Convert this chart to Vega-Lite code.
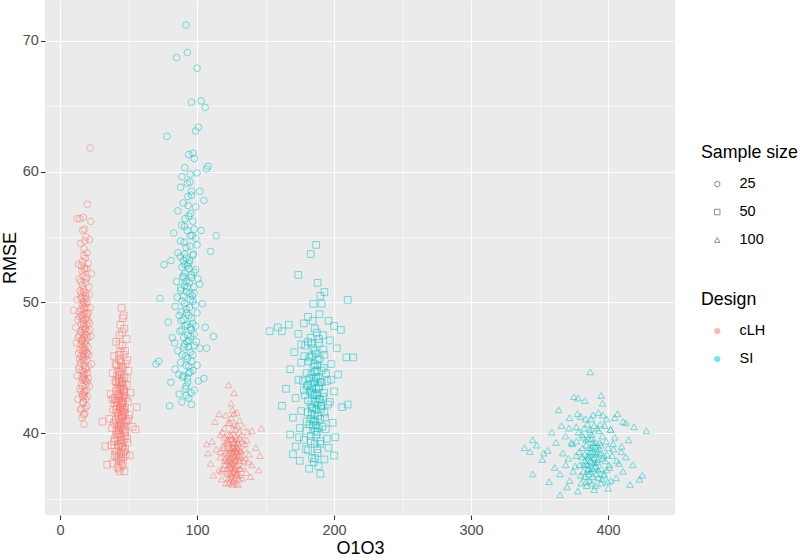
{
  "$schema": "https://vega.github.io/schema/vega-lite/v6.json",
  "width": 630,
  "height": 515,
  "autosize": {"type": "none"},
  "padding": {"left": 45, "top": 0, "right": 125, "bottom": 42},
  "background": "white",
  "config": {
    "view": {"fill": "#EBEBEB", "stroke": null},
    "font": "Liberation Sans",
    "axis": {
      "domain": false,
      "tickColor": "#333333",
      "tickWidth": 1.1,
      "tickSize": 4.5,
      "labelColor": "#4D4D4D",
      "labelFontSize": 14.5,
      "labelOverlap": false,
      "labelFlush": false,
      "gridColor": "white",
      "titleColor": "black",
      "titleFontSize": 18,
      "titleFontWeight": "normal"
    },
    "legend": {
      "titleFontSize": 17.8,
      "titleFontWeight": "normal",
      "titleColor": "black",
      "labelFontSize": 14.5,
      "labelColor": "black",
      "padding": 0,
      "rowPadding": 13,
      "titlePadding": 15,
      "symbolOffset": 9,
      "labelOffset": 15
    }
  },
  "datasets": {
    "cLH25": [
      {"x":22,"y":61.8},{"x":20,"y":57.5},{"x":12.5,"y":56.4},{"x":14.5,"y":56.4},{"x":17,"y":56.5},{"x":22.5,"y":56.2},{"x":16.5,"y":55.5},{"x":19,"y":55},{"x":21.5,"y":54.8},{"x":17.5,"y":54.1},
      {"x":15,"y":54.5},{"x":19.5,"y":53.8},{"x":13.5,"y":52.9},{"x":20.5,"y":53},{"x":18,"y":52.6},{"x":23,"y":52.2},{"x":16,"y":52.4},{"x":14,"y":51.8},{"x":19,"y":51.5},{"x":21,"y":51.2},
      {"x":17,"y":51},{"x":15.5,"y":50.7},{"x":18.5,"y":50.5},{"x":12.5,"y":50.2},{"x":20,"y":50},{"x":16.5,"y":49.8},{"x":22,"y":49.6},{"x":10,"y":49.4},{"x":14.5,"y":49.3},{"x":18,"y":49.2},
      {"x":19.5,"y":48.9},{"x":13,"y":48.7},{"x":17,"y":48.6},{"x":21.5,"y":48.4},{"x":15.5,"y":48.3},{"x":11.5,"y":48.1},{"x":18.5,"y":48},{"x":20,"y":47.8},{"x":16,"y":47.7},{"x":14,"y":47.5},
      {"x":22.5,"y":47.4},{"x":17.5,"y":47.3},{"x":19,"y":47.1},{"x":12,"y":46.9},{"x":15,"y":46.8},{"x":20.5,"y":46.6},{"x":18,"y":46.5},{"x":16.5,"y":46.3},{"x":13.5,"y":46.1},{"x":21,"y":46},
      {"x":17,"y":45.8},{"x":19.5,"y":45.6},{"x":15,"y":45.4},{"x":23,"y":45.3},{"x":14,"y":45.1},{"x":18.5,"y":45},{"x":16,"y":44.8},{"x":20,"y":44.6},{"x":12.5,"y":44.4},{"x":17.5,"y":44.2},
      {"x":19,"y":44},{"x":15.5,"y":43.8},{"x":21.5,"y":43.6},{"x":14.5,"y":43.4},{"x":18,"y":43.2},{"x":16.5,"y":43},{"x":20,"y":42.8},{"x":13,"y":42.6},{"x":17,"y":42.4},{"x":19.5,"y":42.1},
      {"x":15,"y":41.8},{"x":18,"y":41.5},{"x":16,"y":41.2},{"x":17.5,"y":40.7},{"x":19,"y":49.6},{"x":16.8,"y":50.1},{"x":18.2,"y":47.9},{"x":17.8,"y":46.9},{"x":16.2,"y":48.8},{"x":18.8,"y":45.9},
      {"x":17.3,"y":44.7},{"x":15.8,"y":47.1},{"x":19.8,"y":49.1},{"x":16.9,"y":52},{"x":18.4,"y":53.4},{"x":14.8,"y":46.4},{"x":20.6,"y":44.2},{"x":17.9,"y":42.9},{"x":15.3,"y":50.3},{"x":19.2,"y":47.5},
      {"x":17.1,"y":49.5},{"x":16.4,"y":45.6},{"x":18.7,"y":51.8},{"x":13.8,"y":44.9},{"x":21.3,"y":50.6},{"x":17.6,"y":48.2},{"x":16.1,"y":43.6},{"x":19.6,"y":46.2},{"x":18.1,"y":44.5},{"x":15.7,"y":52.8},
      {"x":16.3,"y":47.2},{"x":18.9,"y":46.8},{"x":17.2,"y":48.4},{"x":15.6,"y":49},{"x":19.3,"y":48.3},{"x":17.7,"y":45.2},{"x":16.6,"y":44.1},{"x":18.4,"y":43.7},{"x":20.2,"y":47.3},{"x":14.9,"y":47.8},
      {"x":17.4,"y":50.8},{"x":18.6,"y":49.9},{"x":16.2,"y":51.3},{"x":19.7,"y":51.9},{"x":15.4,"y":45.9},{"x":17.9,"y":52.5},{"x":18.3,"y":41.9},{"x":16.7,"y":42.3},{"x":20.8,"y":45.1},{"x":14.2,"y":48.9},
      {"x":17,"y":46.1},{"x":18,"y":47.6},{"x":16.9,"y":49.1},{"x":19.1,"y":44.9},{"x":15.9,"y":44.3},{"x":17.6,"y":43.1},{"x":18.8,"y":50.7},{"x":16.4,"y":53.1},{"x":20.4,"y":48.6},{"x":13.4,"y":47.3},
      {"x":17.3,"y":41.4},{"x":19.4,"y":43.3},{"x":15.1,"y":51.6},{"x":18.1,"y":54.7},{"x":16.8,"y":46.6},{"x":17.7,"y":49.7},{"x":19.9,"y":46.1},{"x":15.2,"y":43.2},{"x":21.8,"y":47.9},{"x":16,"y":50.4},
      {"x":18.5,"y":42.6},{"x":17.2,"y":44.4},{"x":14.3,"y":45.7},{"x":19.6,"y":52.6},{"x":16.6,"y":48},{"x":18.2,"y":46.3},{"x":17.5,"y":50},{"x":15.8,"y":41.9},{"x":20.1,"y":43.9},{"x":17.8,"y":55.6},
      {"x":16.1,"y":47},{"x":18.7,"y":48.7},{"x":17.4,"y":45.6},{"x":19,"y":50.3},{"x":15.5,"y":49.5},{"x":18.3,"y":44.1},{"x":16.5,"y":42.8},{"x":17.1,"y":53.6},{"x":20.7,"y":49.2},{"x":14.6,"y":50.9}
    ],
    "cLH50": [
      {"x":45,"y":49.6},{"x":46.5,"y":49},{"x":44,"y":48.3},{"x":47,"y":48},{"x":43.5,"y":47.5},{"x":48.5,"y":47.2},{"x":41,"y":47},{"x":45.5,"y":46.7},{"x":47.5,"y":46.3},{"x":39.5,"y":45.9},
      {"x":43,"y":46},{"x":49,"y":45.6},{"x":44.5,"y":45.4},{"x":41.5,"y":45.2},{"x":46,"y":45},{"x":50,"y":44.8},{"x":38.5,"y":44.6},{"x":43.5,"y":44.5},{"x":47,"y":44.3},{"x":40.5,"y":44},
      {"x":45,"y":43.9},{"x":48.5,"y":43.7},{"x":42,"y":43.5},{"x":44,"y":43.3},{"x":51.5,"y":43.1},{"x":37,"y":43},{"x":46.5,"y":42.9},{"x":40,"y":42.7},{"x":43,"y":42.6},{"x":49.5,"y":42.4},
      {"x":45.5,"y":42.3},{"x":41.5,"y":42.1},{"x":47.5,"y":42},{"x":39,"y":41.8},{"x":44.5,"y":41.7},{"x":42.5,"y":41.5},{"x":50.5,"y":41.4},{"x":46,"y":41.3},{"x":36,"y":41.1},{"x":40.5,"y":41},
      {"x":48,"y":40.9},{"x":43.5,"y":40.7},{"x":45,"y":40.6},{"x":38,"y":40.4},{"x":41,"y":40.2},{"x":47,"y":40.1},{"x":53,"y":40.5},{"x":44,"y":39.9},{"x":42,"y":39.7},{"x":49,"y":39.6},
      {"x":39.5,"y":39.4},{"x":45.5,"y":39.3},{"x":37.5,"y":39.1},{"x":43,"y":39},{"x":47.5,"y":38.8},{"x":41,"y":38.6},{"x":44.5,"y":38.5},{"x":40,"y":38.3},{"x":46,"y":38.2},{"x":42.5,"y":38},
      {"x":38.5,"y":37.7},{"x":45,"y":37.5},{"x":43,"y":37.3},{"x":47,"y":37.1},{"x":34.5,"y":37.6},{"x":51,"y":38.3},{"x":44.2,"y":42.8},{"x":43.8,"y":41.9},{"x":45.3,"y":41.2},{"x":42.8,"y":40.3},
      {"x":44.7,"y":43.6},{"x":43.2,"y":44.1},{"x":46.3,"y":40.8},{"x":41.8,"y":41.6},{"x":44.9,"y":42.2},{"x":43.6,"y":39.5},{"x":45.8,"y":44},{"x":42.3,"y":42.9},{"x":46.8,"y":41.8},{"x":40.8,"y":43.2},
      {"x":44.4,"y":40.4},{"x":48.2,"y":42.7},{"x":39.8,"y":42.3},{"x":45.1,"y":38.9},{"x":43.3,"y":45.6},{"x":47.8,"y":39.8},{"x":42.6,"y":44.8},{"x":46.6,"y":43.4},{"x":41.3,"y":39.9},{"x":49.8,"y":41.1},
      {"x":56,"y":42},{"x":55,"y":40.3},{"x":31,"y":40.9},{"x":33,"y":39},
      {"x":44.6,"y":41.4},{"x":42.9,"y":41.1},{"x":46.1,"y":42.5},{"x":43.4,"y":43},{"x":45.7,"y":40.3},{"x":41.6,"y":40.6},{"x":47.3,"y":41.6},{"x":44.1,"y":39.2},{"x":42.2,"y":42.4},{"x":46.9,"y":40.5},
      {"x":43.9,"y":44.7},{"x":45.2,"y":43.7},{"x":40.9,"y":41.8},{"x":48.6,"y":41},{"x":43.1,"y":38.3},{"x":45.9,"y":39},{"x":42.7,"y":40},{"x":44.8,"y":45.1},{"x":41.2,"y":43.9},{"x":47.1,"y":43.1},
      {"x":44.3,"y":37.9},{"x":39.3,"y":40.8},{"x":46.4,"y":46},{"x":43.7,"y":42},{"x":45.4,"y":41.9},{"x":42.4,"y":39.1},{"x":48.9,"y":44.2},{"x":40.2,"y":39.6},{"x":44,"y":40.9},{"x":46.7,"y":38.6},
      {"x":43.5,"y":46.8},{"x":45.6,"y":42.7},{"x":41.7,"y":44.4},{"x":44.9,"y":39.7},{"x":42.9,"y":43.8},{"x":47.6,"y":40.2},{"x":39.8,"y":38.9},{"x":45.1,"y":44.5},{"x":43.3,"y":40.5},{"x":46.2,"y":43.3},
      {"x":41.1,"y":42.5},{"x":44.5,"y":38.1},{"x":48.1,"y":38.4},{"x":42,"y":37.4},{"x":45.3,"y":47.7},{"x":43.8,"y":43.4},{"x":46.5,"y":39.5},{"x":40.6,"y":45.3},{"x":44.7,"y":42.4},{"x":42.6,"y":41.3},
      {"x":47.9,"y":45.3},{"x":45.9,"y":37.7},{"x":43,"y":44.2},{"x":41.4,"y":38.2},{"x":46,"y":41.6},{"x":44.2,"y":46.2},{"x":38.4,"y":42.6},{"x":49.3,"y":39.3},{"x":43.6,"y":37.1},{"x":45.7,"y":48.8}
    ],
    "SI25": [
      {"x":92,"y":71.2},{"x":85,"y":68.7},{"x":93,"y":69.1},{"x":100,"y":67.9},{"x":103,"y":65.4},{"x":96,"y":65.3},{"x":106,"y":64.9},{"x":78,"y":62.7},{"x":99,"y":63.1},{"x":101,"y":63.4},
      {"x":97,"y":61.4},{"x":94,"y":61.3},{"x":98,"y":61},{"x":108,"y":60.4},{"x":107,"y":60.2},{"x":91,"y":60.3},{"x":95,"y":59.8},{"x":100,"y":59.9},{"x":89,"y":59.6},{"x":93,"y":59.1},
      {"x":102,"y":58.5},{"x":88,"y":58.8},{"x":96,"y":58.2},{"x":90,"y":57.6},{"x":99,"y":57.3},{"x":105,"y":57.8},{"x":86,"y":57},{"x":94,"y":56.6},{"x":97,"y":56.2},{"x":91,"y":55.8},
      {"x":103,"y":55.5},{"x":83,"y":55.3},{"x":95,"y":55.1},{"x":88,"y":54.7},{"x":100,"y":54.4},{"x":92,"y":54.2},{"x":86,"y":53.8},{"x":97,"y":53.6},{"x":110,"y":53.9},{"x":81,"y":53.2},
      {"x":94,"y":53},{"x":89,"y":52.7},{"x":99,"y":52.5},{"x":91,"y":52.2},{"x":76,"y":52.9},{"x":96,"y":51.9},{"x":85,"y":51.6},{"x":102,"y":51.4},{"x":93,"y":51.2},{"x":88,"y":50.9},
      {"x":98,"y":50.7},{"x":73,"y":50.3},{"x":90,"y":50.5},{"x":95,"y":50.2},{"x":104,"y":49.9},{"x":84,"y":49.7},{"x":92,"y":49.5},{"x":100,"y":49.2},{"x":87,"y":49},{"x":96,"y":48.8},
      {"x":79,"y":48.5},{"x":93,"y":48.3},{"x":106,"y":48.1},{"x":89,"y":47.9},{"x":98,"y":47.6},{"x":82,"y":47.3},{"x":94,"y":47.1},{"x":91,"y":46.8},{"x":102,"y":46.5},{"x":86,"y":46.3},
      {"x":97,"y":46},{"x":72,"y":45.5},{"x":93,"y":45.7},{"x":88,"y":45.4},{"x":100,"y":45.2},{"x":84,"y":44.9},{"x":95,"y":44.7},{"x":90,"y":44.4},{"x":105,"y":44.2},{"x":81,"y":43.9},
      {"x":92,"y":43.6},{"x":98,"y":43.3},{"x":87,"y":43},{"x":94,"y":42.7},{"x":80,"y":42.1},{"x":89,"y":42.4},{"x":96,"y":42.2},{"x":101,"y":44},{"x":107,"y":46.5},{"x":91,"y":53.7},
      {"x":95,"y":50.7},{"x":93,"y":47.5},{"x":94,"y":49},{"x":92,"y":51.6},{"x":96,"y":47.9},{"x":90,"y":48.7},{"x":93,"y":52.8},{"x":97,"y":50.1},{"x":95,"y":46.2},{"x":92,"y":45.2},
      {"x":98,"y":55.6},{"x":90,"y":53.2},{"x":99,"y":48.2},{"x":94,"y":44.6},{"x":89,"y":50.1},{"x":114,"y":55.1},{"x":112,"y":47.4},{"x":70,"y":45.3},
      {"x":92.5,"y":50.8},{"x":94.5,"y":49.6},{"x":91,"y":51.3},{"x":95.8,"y":52.1},{"x":90.3,"y":47.3},{"x":96.9,"y":48.4},{"x":93.7,"y":46.6},{"x":88.6,"y":49.3},{"x":97.8,"y":51.2},{"x":92.1,"y":53.4},
      {"x":94.9,"y":54.3},{"x":89.7,"y":52},{"x":91.8,"y":45.9},{"x":96.2,"y":45.5},{"x":93.2,"y":43.9},{"x":87.4,"y":47.8},{"x":98.7,"y":49.8},{"x":92.9,"y":55.5},{"x":90.6,"y":54.6},{"x":95.3,"y":56.8},
      {"x":88.1,"y":51.1},{"x":99.5,"y":47},{"x":94.1,"y":52.6},{"x":91.5,"y":48.2},{"x":96.6,"y":50.5},{"x":86.8,"y":44.5},{"x":93.5,"y":57.4},{"x":89.2,"y":46},{"x":97.4,"y":53.7},{"x":92.2,"y":42.9},
      {"x":95.6,"y":43.1},{"x":90.9,"y":49.9},{"x":94.3,"y":51.5},{"x":88.9,"y":55.9},{"x":98.1,"y":46.7},{"x":91.3,"y":56.4},{"x":96,"y":58.5},{"x":93.9,"y":45.1},{"x":87.9,"y":53.5},{"x":100.6,"y":51.8},
      {"x":92.7,"y":47},{"x":95.1,"y":48.1},{"x":89.5,"y":44.3},{"x":94.6,"y":53.2},{"x":90.1,"y":51.9},{"x":97.2,"y":44.8},{"x":85.6,"y":50.4},{"x":93.4,"y":58.1},{"x":91.7,"y":43.4},{"x":99.1,"y":54.9},
      {"x":92.4,"y":49.2},{"x":95.4,"y":47.4},{"x":88.4,"y":48.6},{"x":96.4,"y":55.1},{"x":93,"y":44.2},{"x":90.4,"y":46.6},{"x":94.8,"y":59.2},{"x":91.1,"y":52.9},{"x":97.9,"y":52.3},{"x":83.7,"y":46.9}
    ],
    "cLH100": [
      {"x":123,"y":43.7},{"x":127,"y":43.1},{"x":125,"y":42.3},{"x":126,"y":41.8},{"x":116,"y":41.5},{"x":121,"y":41.4},{"x":129,"y":41.6},{"x":131,"y":41},{"x":113,"y":40.9},{"x":124,"y":40.8},
      {"x":120,"y":40.4},{"x":134,"y":40.5},{"x":128,"y":40.3},{"x":137,"y":40.1},{"x":140,"y":40.2},{"x":117,"y":39.9},{"x":125,"y":39.8},{"x":131,"y":39.6},{"x":122,"y":39.5},{"x":111,"y":39.4},
      {"x":127,"y":39.3},{"x":135,"y":39.2},{"x":119,"y":39.1},{"x":129,"y":39},{"x":124,"y":38.9},{"x":143,"y":38.9},{"x":114,"y":38.8},{"x":132,"y":38.7},{"x":126,"y":38.6},{"x":121,"y":38.5},
      {"x":138,"y":38.4},{"x":128,"y":38.3},{"x":117,"y":38.2},{"x":130,"y":38.1},{"x":123,"y":38},{"x":134,"y":37.9},{"x":126,"y":37.8},{"x":110,"y":37.7},{"x":120,"y":37.6},{"x":128,"y":37.5},
      {"x":140,"y":37.6},{"x":124,"y":37.4},{"x":131,"y":37.3},{"x":116,"y":37.2},{"x":127,"y":37.1},{"x":136,"y":37},{"x":122,"y":36.9},{"x":129,"y":36.8},{"x":125,"y":36.7},{"x":118,"y":36.5},
      {"x":133,"y":36.6},{"x":126,"y":36.3},{"x":121,"y":38.7},{"x":127,"y":38.2},{"x":125,"y":37.7},{"x":129,"y":38.6},{"x":123,"y":39.4},{"x":128,"y":37.2},{"x":126,"y":39},{"x":124,"y":38.1},
      {"x":130,"y":39.2},{"x":122,"y":37.9},{"x":127,"y":38.9},{"x":132,"y":38.2},{"x":120,"y":39.7},{"x":125,"y":36.9},{"x":131,"y":38.4},{"x":119,"y":37.3},{"x":126,"y":38.4},{"x":128,"y":38.8},
      {"x":124,"y":37.5},{"x":133,"y":39.4},{"x":117,"y":38.6},{"x":129,"y":37.6},{"x":135,"y":38.1},{"x":123,"y":36.6},{"x":145,"y":37.2},{"x":112,"y":36.8},{"x":139,"y":36.7},{"x":146,"y":38.3},
      {"x":107,"y":39.2},{"x":108,"y":38.5},{"x":147,"y":40.4},{"x":130,"y":36.1},{"x":121,"y":36.2},
      {"x":126.5,"y":38.5},{"x":128.3,"y":38},{"x":124.8,"y":38.8},{"x":129.6,"y":39.3},{"x":123.4,"y":37.6},{"x":127.7,"y":37.3},{"x":125.5,"y":39.6},{"x":130.4,"y":37.9},{"x":122.6,"y":38.4},{"x":128.9,"y":38.9},
      {"x":126.1,"y":37.1},{"x":131.8,"y":38.6},{"x":124.2,"y":39.9},{"x":127.3,"y":36.6},{"x":120.6,"y":38.1},{"x":129.2,"y":37},{"x":125.9,"y":40.3},{"x":133.4,"y":37.5},{"x":123,"y":39.2},{"x":127.9,"y":39.8},
      {"x":126.8,"y":36.4},{"x":121.9,"y":37.3},{"x":130.8,"y":40.1},{"x":124.6,"y":36.5},{"x":128.6,"y":36.9},{"x":125.2,"y":38.2},{"x":132.6,"y":39.9},{"x":119.4,"y":38.9},{"x":127.1,"y":40.7},{"x":129.9,"y":38.3},
      {"x":123.8,"y":37},{"x":126.3,"y":39.3},{"x":134.8,"y":38.8},{"x":122.3,"y":39.9},{"x":128,"y":37.9},{"x":125.6,"y":37.4},{"x":131.1,"y":36.8},{"x":120.2,"y":37.9},{"x":127.5,"y":38.7},{"x":124,"y":38.5},
      {"x":129.4,"y":40.6},{"x":126.7,"y":37.7},{"x":136.3,"y":39.5},{"x":118.5,"y":40.1},{"x":128.4,"y":36.2},{"x":125,"y":41.2},{"x":130.2,"y":38.8},{"x":123.2,"y":36.2},{"x":127.2,"y":39.5},{"x":121.5,"y":39.3},
      {"x":132.1,"y":37.3},{"x":126,"y":38.9},{"x":124.5,"y":37.9},{"x":129.1,"y":39.6},{"x":117.8,"y":37.1},{"x":137.5,"y":37.8},{"x":126.9,"y":41.5},{"x":122.8,"y":40.8},{"x":130.6,"y":36.5},{"x":125.8,"y":36.1}
    ],
    "SI50": [
      {"x":187,"y":54.4},{"x":183,"y":53.7},{"x":174,"y":52.1},{"x":188,"y":51.5},{"x":190,"y":50.5},{"x":193,"y":50.8},{"x":185,"y":49.9},{"x":191,"y":49.9},{"x":210,"y":50.2},{"x":181,"y":48.9},
      {"x":167,"y":48.3},{"x":178,"y":48.4},{"x":196,"y":48.6},{"x":200,"y":48.2},{"x":205,"y":47.9},{"x":162,"y":47.8},{"x":186,"y":48},{"x":192,"y":47.5},{"x":174,"y":47.6},{"x":183,"y":47.3},
      {"x":197,"y":47.1},{"x":189,"y":46.9},{"x":179,"y":46.7},{"x":202,"y":46.5},{"x":186,"y":46.3},{"x":171,"y":46.2},{"x":193,"y":46},{"x":182,"y":45.8},{"x":209,"y":45.8},{"x":188,"y":45.6},
      {"x":176,"y":45.4},{"x":198,"y":45.3},{"x":185,"y":45.1},{"x":168,"y":44.9},{"x":191,"y":44.8},{"x":180,"y":44.6},{"x":203,"y":44.5},{"x":187,"y":44.3},{"x":174,"y":44.1},{"x":195,"y":44},
      {"x":183,"y":43.8},{"x":189,"y":43.6},{"x":165,"y":43.4},{"x":178,"y":43.3},{"x":200,"y":43.2},{"x":186,"y":43},{"x":192,"y":42.8},{"x":172,"y":42.7},{"x":181,"y":42.5},{"x":197,"y":42.4},
      {"x":188,"y":42.2},{"x":162,"y":42.1},{"x":184,"y":41.9},{"x":206,"y":42},{"x":176,"y":41.7},{"x":193,"y":41.6},{"x":186,"y":41.4},{"x":170,"y":41.2},{"x":190,"y":41.1},{"x":180,"y":40.9},
      {"x":199,"y":40.8},{"x":185,"y":40.6},{"x":175,"y":40.4},{"x":194,"y":40.3},{"x":188,"y":40.1},{"x":168,"y":39.9},{"x":183,"y":39.8},{"x":201,"y":39.7},{"x":178,"y":39.5},{"x":190,"y":39.4},
      {"x":186,"y":39.2},{"x":172,"y":39},{"x":196,"y":38.9},{"x":181,"y":38.7},{"x":170,"y":38.4},{"x":188,"y":38.5},{"x":175,"y":37.9},{"x":184,"y":38.1},{"x":193,"y":38},{"x":200,"y":38.3},
      {"x":190,"y":36.9},{"x":186,"y":44.7},{"x":184,"y":43.1},{"x":189,"y":42.6},{"x":182,"y":44.2},{"x":187,"y":41.8},{"x":185,"y":42.9},{"x":190,"y":43.9},{"x":183,"y":41.1},{"x":188,"y":45.2},
      {"x":186,"y":40.2},{"x":181,"y":43.7},{"x":191,"y":42.1},{"x":184,"y":45.9},{"x":187,"y":43.4},{"x":153,"y":47.8},{"x":159,"y":48.1},{"x":214,"y":45.8},{"x":210,"y":42.2},
      {"x":186.5,"y":42.4},{"x":188.9,"y":43.5},{"x":184.2,"y":42},{"x":190.6,"y":41.9},{"x":182.4,"y":43.2},{"x":187.3,"y":44.8},{"x":185.1,"y":40.9},{"x":192.8,"y":43.1},{"x":180.7,"y":41.6},{"x":189.5,"y":45.7},
      {"x":183.6,"y":44.5},{"x":186.9,"y":39.9},{"x":194.1,"y":44.6},{"x":178.9,"y":42.9},{"x":188.2,"y":41.3},{"x":184.8,"y":46.5},{"x":191.5,"y":40.5},{"x":181.5,"y":45.5},{"x":187.8,"y":38.8},{"x":185.6,"y":43.9},
      {"x":195.7,"y":42.2},{"x":177.3,"y":44},{"x":189.1,"y":47.2},{"x":183.1,"y":39.4},{"x":186.2,"y":41},{"x":192.2,"y":46.4},{"x":179.8,"y":40.2},{"x":187.6,"y":42.9},{"x":184.5,"y":48.6},{"x":190.1,"y":39.2},
      {"x":182.9,"y":42.2},{"x":188.5,"y":44.2},{"x":176.1,"y":46.8},{"x":193.4,"y":41.2},{"x":185.3,"y":37.8},{"x":181.1,"y":47},{"x":189.8,"y":42.6},{"x":186.7,"y":46.1},{"x":183.9,"y":41.5},{"x":197.9,"y":44.1},
      {"x":174.5,"y":39.7},{"x":188.1,"y":40.4},{"x":185.9,"y":45.3},{"x":191.1,"y":43.9},{"x":180.2,"y":43.6},{"x":187.1,"y":40.6},{"x":184,"y":43.5},{"x":194.9,"y":39.6},{"x":182.1,"y":40.7},{"x":189.3,"y":49.1},
      {"x":186.3,"y":38.1},{"x":178.3,"y":45.9},{"x":192.5,"y":45},{"x":185.2,"y":44.2},{"x":188.7,"y":37.5},{"x":183.4,"y":46.9},{"x":190.3,"y":42.1},{"x":179.5,"y":38.8},{"x":187.4,"y":47.7},{"x":181.8,"y":37.3}
    ],
    "SI100": [
      {"x":387,"y":44.7},{"x":375,"y":42.8},{"x":378,"y":42.7},{"x":383,"y":42.5},{"x":395,"y":42.9},{"x":396,"y":42.3},{"x":407,"y":41.5},{"x":372,"y":41.2},{"x":380,"y":41.3},{"x":389,"y":41.4},
      {"x":399,"y":41.1},{"x":411,"y":40.9},{"x":419,"y":40.5},{"x":366,"y":40.6},{"x":377,"y":40.5},{"x":385,"y":40.7},{"x":392,"y":40.4},{"x":402,"y":40.3},{"x":359,"y":40.1},{"x":369,"y":39.8},
      {"x":381,"y":39.9},{"x":388,"y":39.6},{"x":396,"y":39.8},{"x":405,"y":39.7},{"x":415,"y":39.5},{"x":348,"y":39.1},{"x":362,"y":39.3},{"x":374,"y":39.2},{"x":384,"y":39.1},{"x":391,"y":39},
      {"x":400,"y":38.9},{"x":410,"y":39},{"x":343,"y":38.6},{"x":356,"y":38.7},{"x":367,"y":38.5},{"x":379,"y":38.6},{"x":387,"y":38.4},{"x":394,"y":38.5},{"x":403,"y":38.3},{"x":413,"y":38.2},
      {"x":352,"y":38},{"x":371,"y":38.1},{"x":383,"y":37.9},{"x":390,"y":37.8},{"x":398,"y":37.9},{"x":408,"y":37.7},{"x":418,"y":37.6},{"x":361,"y":37.4},{"x":376,"y":37.5},{"x":386,"y":37.3},
      {"x":393,"y":37.2},{"x":401,"y":37.4},{"x":411,"y":37.1},{"x":365,"y":36.9},{"x":380,"y":36.8},{"x":389,"y":36.7},{"x":397,"y":36.9},{"x":406,"y":36.6},{"x":372,"y":36.4},{"x":384,"y":36.3},
      {"x":395,"y":36.2},{"x":378,"y":35.6},{"x":386,"y":38.2},{"x":388,"y":38.9},{"x":390,"y":38.1},{"x":385,"y":37.6},{"x":392,"y":38.6},{"x":387,"y":37.1},{"x":383,"y":38.4},{"x":391,"y":37.5},
      {"x":389,"y":39.3},{"x":386,"y":36.9},{"x":394,"y":39.3},{"x":382,"y":37.1},{"x":388,"y":37.8},{"x":396,"y":38.1},{"x":384,"y":39.5},{"x":399,"y":37.2},{"x":381,"y":38.2},{"x":393,"y":36.6},
      {"x":387,"y":40.1},{"x":404,"y":38.8},{"x":377,"y":39.4},{"x":402,"y":36.4},{"x":428,"y":40.2},{"x":345,"y":36.9},{"x":353,"y":38.5},{"x":425,"y":36.8},{"x":357,"y":36.3},{"x":416,"y":36.1},
      {"x":370,"y":35.9},{"x":400,"y":35.8},{"x":413,"y":40.8},{"x":364,"y":41.8},{"x":339,"y":38.9},{"x":345,"y":39.5},{"x":423,"y":36.5},{"x":365,"y":35.3},
      {"x":389.5,"y":38.5},{"x":392.5,"y":38},{"x":386.5,"y":38.9},{"x":394.8,"y":39.1},{"x":384.2,"y":37.7},{"x":390.3,"y":37.4},{"x":388.1,"y":39.9},{"x":396.9,"y":38.3},{"x":381.4,"y":38.9},{"x":391.7,"y":36.9},
      {"x":387.4,"y":37.9},{"x":398.6,"y":39.4},{"x":383.1,"y":36.7},{"x":393.2,"y":40.2},{"x":385.6,"y":39.6},{"x":400.9,"y":37.6},{"x":379.3,"y":37.6},{"x":389.9,"y":40.6},{"x":395.6,"y":36.5},{"x":382.6,"y":40.4},
      {"x":391.1,"y":39.3},{"x":386.2,"y":36.4},{"x":403.7,"y":39.2},{"x":376.8,"y":38.3},{"x":388.7,"y":37.3},{"x":397.5,"y":40.6},{"x":384.9,"y":38.3},{"x":392.1,"y":37.8},{"x":374.6,"y":37.1},{"x":399.2,"y":38.4},
      {"x":387.7,"y":41.1},{"x":390.8,"y":36},{"x":381.9,"y":39.7},{"x":395.1,"y":37.3},{"x":385.3,"y":37.2},{"x":406.3,"y":37.9},{"x":378.4,"y":40.1},{"x":393.9,"y":38.8},{"x":388.4,"y":36.2},{"x":383.7,"y":41.1},
      {"x":397.1,"y":36.8},{"x":389.2,"y":39.1},{"x":373.2,"y":39.3},{"x":401.8,"y":40.3},{"x":386.9,"y":40.3},{"x":391.4,"y":38.4},{"x":380.5,"y":36.2},{"x":396.2,"y":41.4},{"x":384.5,"y":36},{"x":409.6,"y":38.6},
      {"x":369.1,"y":37.6},{"x":392.9,"y":41.6},{"x":387.1,"y":38.6},{"x":399.9,"y":36.3},{"x":382.3,"y":37.6},{"x":394.4,"y":40.7},{"x":377.7,"y":41.5},{"x":390,"y":35.7},{"x":404.9,"y":41.2},{"x":371.5,"y":40.4}
    ]
  },
  "encoding": {
    "x": {
      "field": "x",
      "type": "quantitative",
      "title": "O1O3",
      "scale": {"domain": [-10.95, 448.9], "nice": false, "zero": false},
      "axis": {
        "values": [0, 50, 100, 150, 200, 250, 300, 350, 400],
        "labelExpr": "datum.value % 100 === 0 ? datum.label : ''",
        "gridWidth": {"condition": {"test": "datum.value % 100 !== 0", "value": 0.55}, "value": 1.1},
        "tickOpacity": {"condition": {"test": "datum.value % 100 !== 0", "value": 0}, "value": 1},
        "labelPadding": 4,
        "titlePadding": 2
      }
    },
    "y": {
      "field": "y",
      "type": "quantitative",
      "title": "RMSE",
      "scale": {"domain": [33.76, 73.11], "nice": false, "zero": false},
      "axis": {
        "values": [35, 40, 45, 50, 55, 60, 65, 70],
        "labelExpr": "datum.value % 10 === 0 ? datum.label : ''",
        "gridWidth": {"condition": {"test": "datum.value % 10 !== 0", "value": 0.55}, "value": 1.1},
        "tickOpacity": {"condition": {"test": "datum.value % 10 !== 0", "value": 0}, "value": 1},
        "labelPadding": 2.2,
        "titlePadding": 2.5
      }
    }
  },
  "layer": [
    {
      "data": {"name": "cLH25"},
      "mark": {"type": "point", "filled": false, "size": 45, "strokeWidth": 0.9, "opacity": 0.55},
      "encoding": {
        "color": {"datum": "cLH", "type": "nominal", "title": "Design",
          "scale": {"domain": ["cLH", "SI"], "range": ["#F8766D", "#00BFC4"]},
          "legend": {"orient": "none", "legendX": 656, "legendY": 291, "symbolType": "circle", "symbolSize": 40, "symbolOpacity": 1,
            "encoding": {"symbols": {"fill": {"value": {"expr": "scale('color', datum.value)"}}, "fillOpacity": {"value": 0.5}, "strokeWidth": {"value": 0}}}}},
        "shape": {"datum": 25, "type": "nominal", "title": "Sample size",
          "scale": {"domain": [25, 50, 100], "range": ["circle", "square", "triangle-up"]},
          "legend": {"orient": "none", "legendX": 656, "legendY": 144, "symbolSize": 30,
            "symbolStrokeColor": "#7F7F7F", "symbolFillColor": "transparent", "symbolOpacity": 1, "symbolStrokeWidth": 0.9}}
      }
    },
    {
      "data": {"name": "cLH50"},
      "mark": {"type": "point", "filled": false, "size": 45, "strokeWidth": 0.9, "opacity": 0.55},
      "encoding": {
        "color": {"datum": "cLH", "type": "nominal"},
        "shape": {"datum": 50, "type": "nominal"}
      }
    },
    {
      "data": {"name": "cLH100"},
      "mark": {"type": "point", "filled": false, "size": 45, "strokeWidth": 0.9, "opacity": 0.55},
      "encoding": {
        "color": {"datum": "cLH", "type": "nominal"},
        "shape": {"datum": 100, "type": "nominal"}
      }
    },
    {
      "data": {"name": "SI25"},
      "mark": {"type": "point", "filled": false, "size": 45, "strokeWidth": 0.9, "opacity": 0.55},
      "encoding": {
        "color": {"datum": "SI", "type": "nominal"},
        "shape": {"datum": 25, "type": "nominal"}
      }
    },
    {
      "data": {"name": "SI50"},
      "mark": {"type": "point", "filled": false, "size": 45, "strokeWidth": 0.9, "opacity": 0.55},
      "encoding": {
        "color": {"datum": "SI", "type": "nominal"},
        "shape": {"datum": 50, "type": "nominal"}
      }
    },
    {
      "data": {"name": "SI100"},
      "mark": {"type": "point", "filled": false, "size": 45, "strokeWidth": 0.9, "opacity": 0.55},
      "encoding": {
        "color": {"datum": "SI", "type": "nominal"},
        "shape": {"datum": 100, "type": "nominal"}
      }
    }
  ]
}
